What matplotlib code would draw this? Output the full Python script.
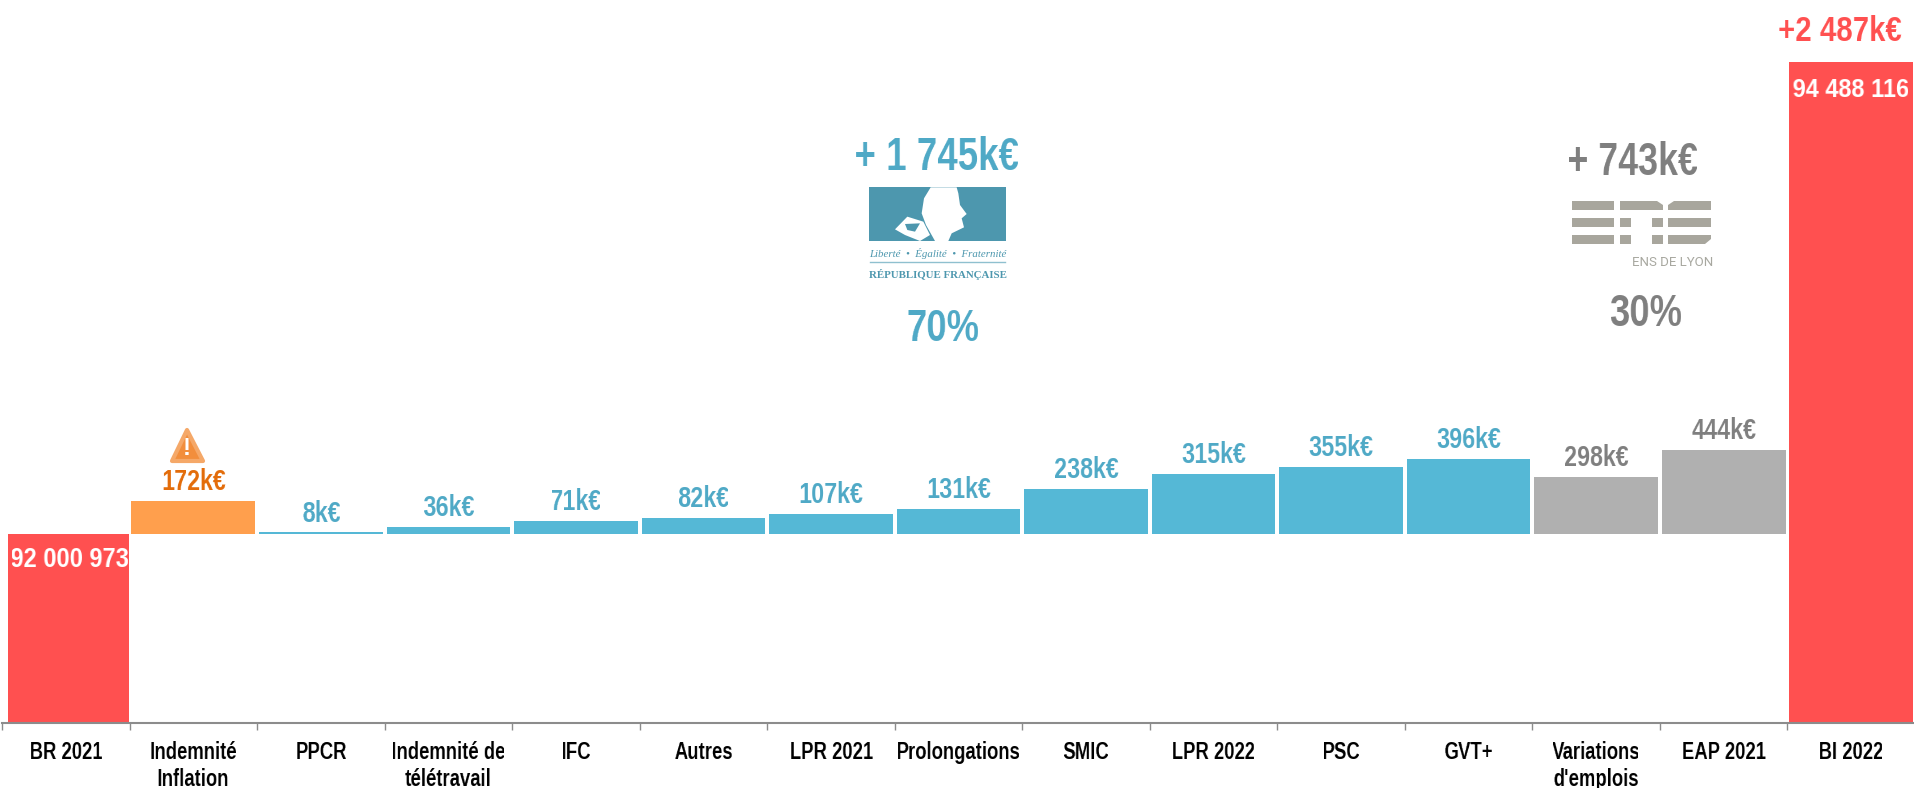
import matplotlib
matplotlib.use('Agg')
import numpy as np
import matplotlib.pyplot as plt
from matplotlib.patches import Polygon, Rectangle

categories = ['BR 2021', 'Indemnité\nInflation', 'PPCR', 'Indemnité de\ntélétravail', 'IFC', 'Autres',
              'LPR 2021', 'Prolongations', 'SMIC', 'LPR 2022', 'PSC', 'GVT+',
              "Variations\nd'emplois", 'EAP 2021', 'BI 2022']
start_budget = 92000973
end_budget = 94488116
steps_k = [172, 8, 36, 71, 82, 107, 131, 238, 315, 355, 396, 298, 444]
step_colors = ['#ff9f4d'] + ['#55b8d6'] * 10 + ['#b0b0b0'] * 2
label_colors = ['#e36c0a'] + ['#4fa9c6'] * 10 + ['#7f7f7f'] * 2

RED = '#ff5050'
BLUE_TXT = '#4fa9c6'
GREY_TXT = '#7f7f7f'
FONT = 'Liberation Sans'


def squeeze(factor):
    # no condensed font installed, so narrow the drawn text around its centre
    def f(img, dpi):
        w = img.shape[1]
        cx = (w - 1) / 2
        src = cx + (np.arange(w) - cx) / factor
        i0 = np.floor(src).astype(int)
        t = (src - i0)[None, :, None]
        ok = ((i0 >= 0) & (i0 < w - 1))[None, :, None]
        i0 = np.clip(i0, 0, w - 2) if w > 1 else np.zeros(w, dtype=int)
        i1 = np.minimum(i0 + 1, w - 1)
        return (img[:, i0] * (1 - t) + img[:, i1] * t) * ok, 0, 0
    return f


fig = plt.figure(figsize=(19.15, 7.88), dpi=100)
ax = fig.add_axes([2 / 1915, 65 / 788, 1913 / 1915, 723 / 788])

# waterfall: steps all sit on the BR 2021 level
ax.bar(0.52, start_budget, width=0.95, color=RED)
x_steps = [i + 1.5 for i in range(len(steps_k))]
ax.bar(x_steps, [v * 1000 for v in steps_k], bottom=start_budget, width=0.97, color=step_colors)
ax.bar(14.5, end_budget, width=0.97, color=RED)

ax.set_xlim(0, 15)
ax.set_ylim(91005000, 94815000)

for x, v, c in zip(x_steps, steps_k, label_colors):
    t = ax.text(x, start_budget + v * 1000 + 100000, f'{v}k€', ha='center', va='center',
                fontsize=21, fontweight='bold', color=c, family=FONT)
    t.set_agg_filter(squeeze(0.8))

t = ax.text(0.53, start_budget - 135000, '92 000 973', color='white', fontsize=20, fontweight='bold',
            family=FONT, ha='center', va='center')
t.set_agg_filter(squeeze(0.85))
t = ax.text(14.5, end_budget - 145000, '94 488 116', color='white', fontsize=18, fontweight='bold',
            family=FONT, ha='center', va='center')
t.set_agg_filter(squeeze(0.94))

for s in ['top', 'left', 'right']:
    ax.spines[s].set_visible(False)
ax.spines['bottom'].set_color('#8c8c8c')
ax.spines['bottom'].set_linewidth(1.5)
ax.set_yticks([])
ax.set_xticks(range(16))
ax.set_xticklabels([])
ax.tick_params(axis='x', which='major', length=5, width=1, color='#8c8c8c')
ax.set_xticks([i + 0.5 for i in range(15)], minor=True)
ax.set_xticklabels(categories, minor=True, fontsize=16.5, fontweight='bold', family=FONT, linespacing=1.2)
ax.tick_params(axis='x', which='minor', length=0, pad=13)
for lab in ax.get_xticklabels(minor=True):
    lab.set_agg_filter(squeeze(0.81))

# overlay in image pixels for the logos and big annotations
ov = fig.add_axes([0, 0, 1, 1])
ov.set_xlim(0, 1915)
ov.set_ylim(788, 0)
ov.axis('off')
ov.patch.set_alpha(0)

big = [(1840, 31, '+2 487k€', RED, 25, 0.85),
       (937, 158, '+ 1 745k€', BLUE_TXT, 33, 0.8),
       (943, 329, '70%', BLUE_TXT, 32, 0.82),
       (1633, 163, '+ 743k€', GREY_TXT, 33, 0.78),
       (1646, 314, '30%', GREY_TXT, 32, 0.82)]
for x, y, txt, c, size, sq in big:
    t = ov.text(x, y, txt, color=c, fontsize=size, fontweight='bold', family=FONT, ha='center', va='center')
    t.set_agg_filter(squeeze(sq))

# République Française logo
TEAL = '#4d97ae'
def z(pts):
    return [(820 + px / 3, 110 + py / 3) for px, py in pts]

ov.add_patch(Rectangle((869, 187), 137, 54, color=TEAL, lw=0))
ov.add_patch(Polygon(z([(332, 232), (312, 265), (305, 310), (318, 345), (345, 393), (385, 393), (395, 370),
                        (432, 352), (425, 325), (440, 312), (420, 285), (415, 250), (410, 232)]), color='white', lw=0))
ov.add_patch(Polygon(z([(225, 358), (262, 320), (310, 335), (330, 375), (300, 393), (255, 375)]), color='white', lw=0))
ov.add_patch(Polygon(z([(255, 342), (300, 340), (285, 365), (262, 360)]), color=TEAL, lw=0))
ov.text(937.5, 253, 'Liberté  •  Égalité  •  Fraternité', family='Liberation Serif', style='italic', color=TEAL,
        fontsize=7.8, ha='center', va='center')
ov.plot([870, 1005], [262, 262], color='#8fc0cf', lw=1)
ov.text(937.5, 274, 'RÉPUBLIQUE FRANÇAISE', family='Liberation Serif', fontweight='bold', color=TEAL, fontsize=7.8,
        ha='center', va='center')

# ENS logo
ENS = '#a8a69d'
for y in [201, 218, 235]:
    ov.add_patch(Rectangle((1572, y), 42, 9, color=ENS, lw=0))
for y in [218, 235]:
    ov.add_patch(Rectangle((1620, y), 11, 9, color=ENS, lw=0))
    ov.add_patch(Rectangle((1652, y), 11, 9, color=ENS, lw=0))
ov.add_patch(Rectangle((1668, 218), 43, 9, color=ENS, lw=0))
ov.add_patch(Polygon([(1620, 201), (1657, 201), (1663, 205), (1663, 210), (1620, 210)], color=ENS, lw=0))
ov.add_patch(Polygon([(1674, 201), (1711, 201), (1711, 210), (1668, 210), (1668, 205)], color=ENS, lw=0))
ov.add_patch(Polygon([(1668, 235), (1711, 235), (1711, 239), (1705, 244), (1668, 244)], color=ENS, lw=0))
ov.text(1673, 262, 'ENS DE LYON', family='Roboto', color='#a8a8a0', fontsize=9.5, ha='center', va='center')

# warning sign
ov.add_patch(Polygon([(187, 430), (172, 461), (203, 461)], closed=True, facecolor='#f28e3c',
                     edgecolor='#f5a868', lw=3, joinstyle='round'))
ov.text(187, 448, '!', color='white', fontsize=17, fontweight='bold', family='Liberation Sans', ha='center', va='center')

fig.savefig('out.png', dpi=100)
